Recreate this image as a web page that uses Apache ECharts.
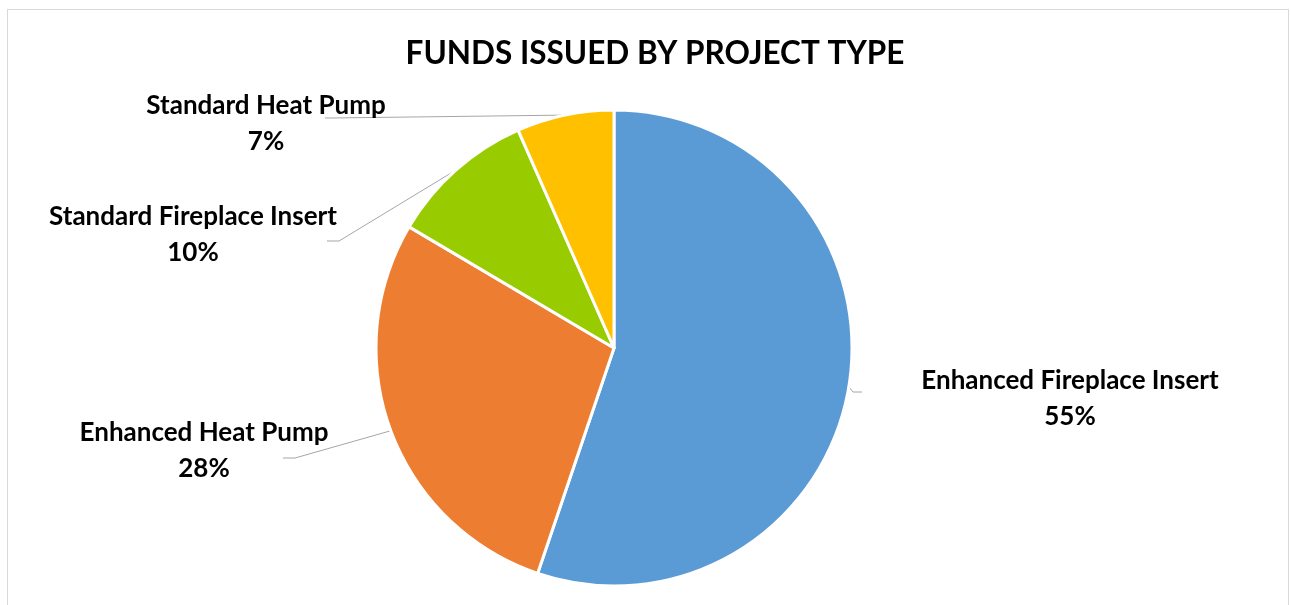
<!DOCTYPE html>
<html>
<head>
<meta charset="utf-8">
<script src="https://cdn.jsdelivr.net/npm/echarts@6/dist/echarts.min.js"></script>
<style>
html,body{margin:0;padding:0;background:#fff;}
#frame{position:absolute;left:7px;top:9px;width:1282px;height:620px;border:1px solid #d9d9d9;box-sizing:border-box;}
#chart{position:absolute;left:0;top:0;width:1291px;height:605px;}
</style>
</head>
<body>
<div id="frame"></div>
<div id="chart"></div>
<script>
const categories = ['Enhanced Fireplace Insert', 'Enhanced Heat Pump', 'Standard Fireplace Insert', 'Standard Heat Pump'];
const values = [55.2, 28.3, 9.9, 6.6];
const colors = ['#5B9BD5', '#ED7D31', '#99CC00', '#FFC000'];

// label placement (layout only)
const labelCenters = [[1070, 399], [204, 451], [193, 235], [266, 124]];
const leaderEnds = [
  [[853, 392], [862, 392]],
  [[295, 458], [283, 458]],
  [[339, 241], [327, 241]],
  [[330, 118], [325, 118]]
];

const FONT = 'Lato';
const chart = echarts.init(document.getElementById('chart'));
chart.setOption({
  backgroundColor: 'transparent',
  animation: false,
  title: {
    text: 'FUNDS ISSUED BY PROJECT TYPE',
    left: 650, top: 33, textAlign: 'center',
    textStyle: { fontFamily: FONT, fontWeight: 'bold', fontSize: 31.5, color: '#000' }
  },
  series: [{
    type: 'pie',
    center: [614, 348],
    radius: 238,
    startAngle: 90,
    clockwise: true,
    data: categories.map((c, i) => ({ name: c, value: values[i], itemStyle: { color: colors[i] } })),
    itemStyle: { borderColor: '#fff', borderWidth: 3 },
    label: {
      show: true,
      position: 'outside',
      formatter: p => p.name + '\n' + Math.round(p.percent) + '%',
      fontFamily: FONT, fontWeight: 'bold', fontSize: 26, color: '#000',
      lineHeight: 36, align: 'center'
    },
    labelLine: { show: true, length: 10, length2: 10, lineStyle: { color: '#a6a6a6', width: 1 } },
    labelLayout: function (params) {
      const i = params.dataIndex;
      const start = params.labelLinePoints ? params.labelLinePoints[0] : null;
      const res = { x: labelCenters[i][0], y: labelCenters[i][1], align: 'center', verticalAlign: 'middle' };
      if (start) res.labelLinePoints = [start, leaderEnds[i][0], leaderEnds[i][1]];
      return res;
    },
    emphasis: { disabled: true }
  }]
});
</script>
</body>
</html>
